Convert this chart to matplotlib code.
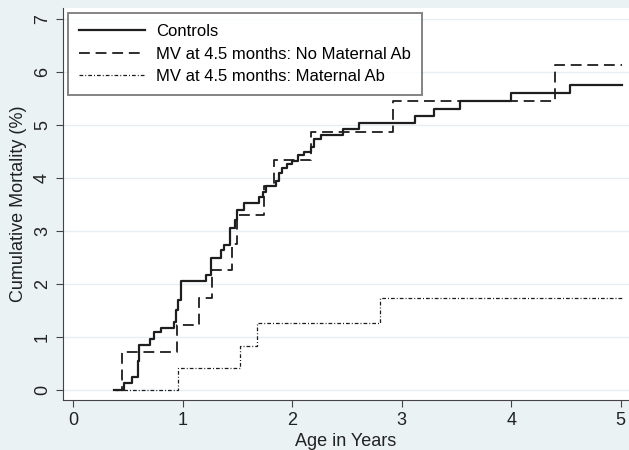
import matplotlib.pyplot as plt

# Tiempos (años) y mortalidad acumulada (%) despues de cada paso
ctrl_t = [0.37, 0.46, 0.54, 0.59, 0.60, 0.70, 0.74, 0.80, 0.92, 0.94, 0.96,
          0.98, 1.21, 1.26, 1.35, 1.38, 1.43, 1.48, 1.50, 1.56, 1.70, 1.73,
          1.76, 1.85, 1.88, 1.91, 1.95, 2.00, 2.05, 2.11, 2.17, 2.20, 2.26,
          2.46, 2.61, 3.12, 3.29, 3.53, 4.00, 4.54, 5.01]
ctrl_y = [0.00, 0.13, 0.24, 0.55, 0.85, 0.97, 1.09, 1.17, 1.29, 1.51, 1.69,
          2.06, 2.17, 2.50, 2.64, 2.73, 3.06, 3.20, 3.39, 3.53, 3.64, 3.73,
          3.86, 3.95, 4.10, 4.19, 4.26, 4.33, 4.43, 4.49, 4.58, 4.74, 4.82,
          4.92, 5.05, 5.17, 5.30, 5.45, 5.60, 5.76, 5.76]

nomab_t = [0.38, 0.45, 0.95, 1.15, 1.27, 1.45, 1.50, 1.74, 1.83, 2.17, 2.92,
           4.40, 5.01]
nomab_y = [0.00, 0.72, 1.22, 1.74, 2.26, 2.76, 3.30, 3.86, 4.34, 4.87, 5.46,
           6.14, 6.14]

mab_t = [0.38, 0.96, 1.52, 1.68, 2.80, 5.02]
mab_y = [0.00, 0.42, 0.83, 1.26, 1.74, 1.74]

plt.rcParams['font.family'] = ['Liberation Sans', 'DejaVu Sans']

fig = plt.figure(figsize=(6.29, 4.5), dpi=100, facecolor='#eaf2f3')
ax = fig.add_axes([0.100, 0.111, 0.900, 0.871])
ax.set_facecolor('white')

for yv in range(8):
    ax.axhline(yv, color='#e6eef1', lw=1, zorder=0)

ink = '#1e1e1e'
ax.step(ctrl_t, ctrl_y, where='post', color=ink, lw=1.6, label='Controls')
ax.step(nomab_t, nomab_y, where='post', color=ink, lw=1.3,
        dashes=(6, 3.2), label='MV at 4.5 months: No Maternal Ab')
ax.step(mab_t, mab_y, where='post', color=ink, lw=0.9,
        dashes=(3, 1.6, 0.8, 1.6), label='MV at 4.5 months: Maternal Ab')

ax.set_xlim(-0.094, 5.075)
ax.set_ylim(-0.19, 7.21)
ax.set_xticks(range(6))
ax.set_yticks(range(8))
ax.tick_params(axis='both', direction='out', length=5, color='#444444',
               labelsize=13, labelcolor='#222222')
ax.set_yticklabels([str(i) for i in range(8)], rotation=90, va='center')
for side in ['top', 'right']:
    ax.spines[side].set_visible(False)
for side in ['left', 'bottom']:
    ax.spines[side].set_color('#444444')

ax.set_xlabel('Age in Years', fontsize=13, color='#222222', labelpad=3)
ax.set_ylabel('Cumulative Mortality (%)', fontsize=13, color='#222222',
              labelpad=5)

leg = ax.legend(loc='upper left', bbox_to_anchor=(0.009, 0.987),
                borderaxespad=0, fontsize=12, handlelength=4.0,
                frameon=True, fancybox=False, edgecolor='#666666',
                borderpad=0.65, labelspacing=0.45, handletextpad=0.65)
leg.get_frame().set_linewidth(1.4)

fig.savefig('out.png', dpi=100, facecolor=fig.get_facecolor())
